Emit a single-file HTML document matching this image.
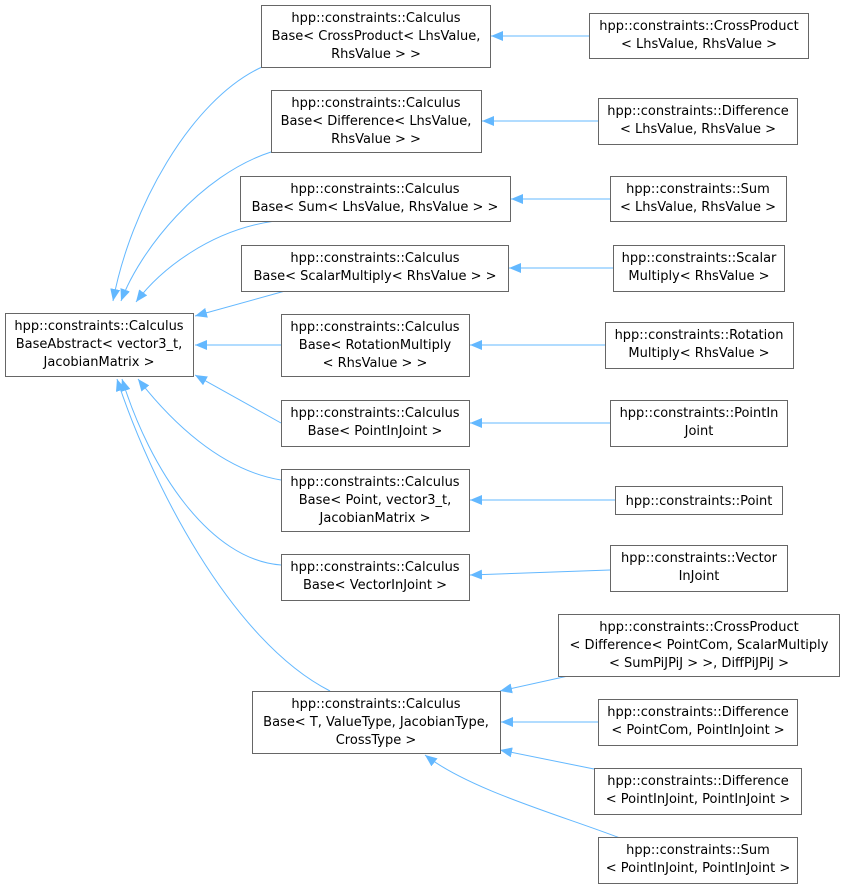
<!DOCTYPE html>
<html><head><meta charset="utf-8"><style>
html,body{margin:0;padding:0;background:#fff;}
svg text{font-family:"DejaVu Sans","Liberation Sans",sans-serif;font-size:13px;fill:#000;}
</style></head><body>
<svg width="846" height="889" viewBox="0 0 846 889" xmlns="http://www.w3.org/2000/svg">
<defs>
<marker id="a" markerWidth="12" markerHeight="10" refX="12" refY="5" orient="auto" markerUnits="userSpaceOnUse">
<path d="M0,0 L12,5 L0,10 Z" fill="#63b8ff"/>
</marker>
</defs>
<g fill="none" stroke="#63b8ff" stroke-width="1" marker-end="url(#a)">
<path d="M262,67 C190,100 130,210 113,301"/>
<path d="M271,152 C200,175 140,250 121,301"/>
<path d="M275,221 C210,230 160,270 136,302"/>
<path d="M285,291 L195,316"/>
<path d="M281,345 L195,345"/>
<path d="M281,423 L195,375"/>
<path d="M281,480 C220,470 170,420 138,379"/>
<path d="M281,565 C210,560 150,470 122,379"/>
<path d="M330,691 C230,640 150,480 117,379"/>
<path d="M589,36 L491,36"/>
<path d="M598,121 L482,121"/>
<path d="M610,199 L511,199"/>
<path d="M613,268 L509,268"/>
<path d="M605,345 L470,345"/>
<path d="M610,423 L470,423"/>
<path d="M615,500 L470,500"/>
<path d="M610,570 L470,575"/>
<path d="M568,676 L500,691"/>
<path d="M598,722 L501,722"/>
<path d="M594,769 L500,750"/>
<path d="M620,838 C560,815 470,790 425,755"/>
</g>
<g fill="#fff" stroke="#666" stroke-width="1">
<rect x="5.5" y="313.5" width="188" height="63"/>
<rect x="261.5" y="5.5" width="229" height="62"/>
<rect x="271.5" y="90.5" width="210" height="62"/>
<rect x="240.5" y="176.5" width="270" height="45"/>
<rect x="241.5" y="245.5" width="267" height="46"/>
<rect x="281.5" y="314.5" width="188" height="62"/>
<rect x="281.5" y="400.5" width="188" height="46"/>
<rect x="281.5" y="469.5" width="188" height="62"/>
<rect x="281.5" y="554.5" width="188" height="46"/>
<rect x="252.5" y="691.5" width="248" height="62"/>
<rect x="589.5" y="13.5" width="219" height="45"/>
<rect x="598.5" y="98.5" width="199" height="46"/>
<rect x="610.5" y="176.5" width="176" height="45"/>
<rect x="613.5" y="245.5" width="171" height="46"/>
<rect x="605.5" y="322.5" width="188" height="46"/>
<rect x="610.5" y="400.5" width="177" height="46"/>
<rect x="615.5" y="486.5" width="167" height="28"/>
<rect x="610.5" y="545.5" width="177" height="46"/>
<rect x="558.5" y="614.5" width="281" height="62"/>
<rect x="598.5" y="699.5" width="199" height="46"/>
<rect x="594.5" y="768.5" width="207" height="46"/>
<rect x="598.5" y="837.5" width="199" height="46"/>
</g>
<g text-anchor="middle">
<text x="99" y="330">hpp::constraints::Calculus</text><text x="99" y="348">BaseAbstract&lt; vector3_t,</text><text x="99" y="366">JacobianMatrix &gt;</text>
<text x="376" y="22">hpp::constraints::Calculus</text><text x="376" y="40">Base&lt; CrossProduct&lt; LhsValue,</text><text x="376" y="58">RhsValue &gt; &gt;</text>
<text x="376" y="107">hpp::constraints::Calculus</text><text x="376" y="125">Base&lt; Difference&lt; LhsValue,</text><text x="376" y="143">RhsValue &gt; &gt;</text>
<text x="375" y="193">hpp::constraints::Calculus</text><text x="375" y="211">Base&lt; Sum&lt; LhsValue, RhsValue &gt; &gt;</text>
<text x="375" y="262">hpp::constraints::Calculus</text><text x="375" y="280">Base&lt; ScalarMultiply&lt; RhsValue &gt; &gt;</text>
<text x="375" y="331">hpp::constraints::Calculus</text><text x="375" y="349">Base&lt; RotationMultiply</text><text x="375" y="367">&lt; RhsValue &gt; &gt;</text>
<text x="375" y="417">hpp::constraints::Calculus</text><text x="375" y="435">Base&lt; PointInJoint &gt;</text>
<text x="375" y="486">hpp::constraints::Calculus</text><text x="375" y="504">Base&lt; Point, vector3_t,</text><text x="375" y="522">JacobianMatrix &gt;</text>
<text x="375" y="571">hpp::constraints::Calculus</text><text x="375" y="589">Base&lt; VectorInJoint &gt;</text>
<text x="376" y="708">hpp::constraints::Calculus</text><text x="376" y="726">Base&lt; T, ValueType, JacobianType,</text><text x="376" y="744">CrossType &gt;</text>
<text x="699" y="30">hpp::constraints::CrossProduct</text><text x="699" y="48">&lt; LhsValue, RhsValue &gt;</text>
<text x="698" y="115">hpp::constraints::Difference</text><text x="698" y="133">&lt; LhsValue, RhsValue &gt;</text>
<text x="698" y="193">hpp::constraints::Sum</text><text x="698" y="211">&lt; LhsValue, RhsValue &gt;</text>
<text x="699" y="262">hpp::constraints::Scalar</text><text x="699" y="280">Multiply&lt; RhsValue &gt;</text>
<text x="699" y="339">hpp::constraints::Rotation</text><text x="699" y="357">Multiply&lt; RhsValue &gt;</text>
<text x="699" y="417">hpp::constraints::PointIn</text><text x="699" y="435">Joint</text>
<text x="699" y="505">hpp::constraints::Point</text>
<text x="699" y="562">hpp::constraints::Vector</text><text x="699" y="580">InJoint</text>
<text x="699" y="631">hpp::constraints::CrossProduct</text><text x="699" y="649">&lt; Difference&lt; PointCom, ScalarMultiply</text><text x="699" y="667">&lt; SumPiJPiJ &gt; &gt;, DiffPiJPiJ &gt;</text>
<text x="698" y="716">hpp::constraints::Difference</text><text x="698" y="734">&lt; PointCom, PointInJoint &gt;</text>
<text x="698" y="785">hpp::constraints::Difference</text><text x="698" y="803">&lt; PointInJoint, PointInJoint &gt;</text>
<text x="698" y="854">hpp::constraints::Sum</text><text x="698" y="872">&lt; PointInJoint, PointInJoint &gt;</text>
</g>
</svg>
</body></html>
